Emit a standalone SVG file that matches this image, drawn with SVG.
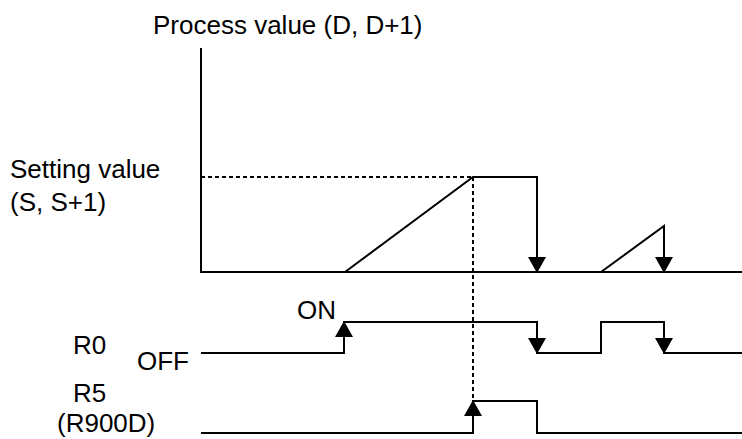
<svg xmlns="http://www.w3.org/2000/svg" width="742" height="439" viewBox="0 0 742 439">
<style>
text{font-family:"Liberation Sans",Arial,sans-serif;font-size:26px;fill:#000}
.l{fill:none;stroke:#000;stroke-width:2}
.d{fill:none;stroke:#000;stroke-width:2;stroke-dasharray:4 3}
</style>
<defs>
<marker id="ah" markerUnits="userSpaceOnUse" markerWidth="20" markerHeight="18" viewBox="0 0 20 18" refX="17" refY="9" orient="auto">
<path d="M1,0 L17,9 L1,18 Z" fill="#000"/>
</marker>
</defs>
<rect width="742" height="439" fill="#fff"/>
<g id="labels">
<text x="153" y="34">Process value (D, D+1)</text>
<text x="10" y="178">Setting value</text>
<text x="10" y="211">(S, S+1)</text>
<text x="297" y="319">ON</text>
<text x="73" y="354">R0</text>
<text x="137" y="370">OFF</text>
<text x="73" y="402">R5</text>
<text x="57" y="432">(R900D)</text>
</g>
<g id="axes">
<path class="l" d="M201,48 V272 H742"/>
</g>
<g id="process">
<path class="d" d="M201,177 H473 M473,177 V401"/>
<path class="l" d="M345,272 L473,177 H537 V258"/>
<path class="l" d="M601,272 L664,226 V258"/>
</g>
<g id="r0">
<path class="l" d="M201,353 H344 V336 M344,322 H537 V340 M537,353 H601 V322 H664 V340 M664,353 H742"/>
</g>
<g id="r5">
<path class="l" d="M201,433 H473 V415 M473,401 H537 V433 H742"/>
</g>
<g id="connectors">
<path class="l" marker-end="url(#ah)" d="M537,250 V273"/>
<path class="l" marker-end="url(#ah)" d="M664,250 V273"/>
<path class="l" marker-end="url(#ah)" d="M344,345 V321"/>
<path class="l" marker-end="url(#ah)" d="M537,330 V354"/>
<path class="l" marker-end="url(#ah)" d="M664,330 V354"/>
<path class="l" marker-end="url(#ah)" d="M473,425 V400"/>
</g>
</svg>
